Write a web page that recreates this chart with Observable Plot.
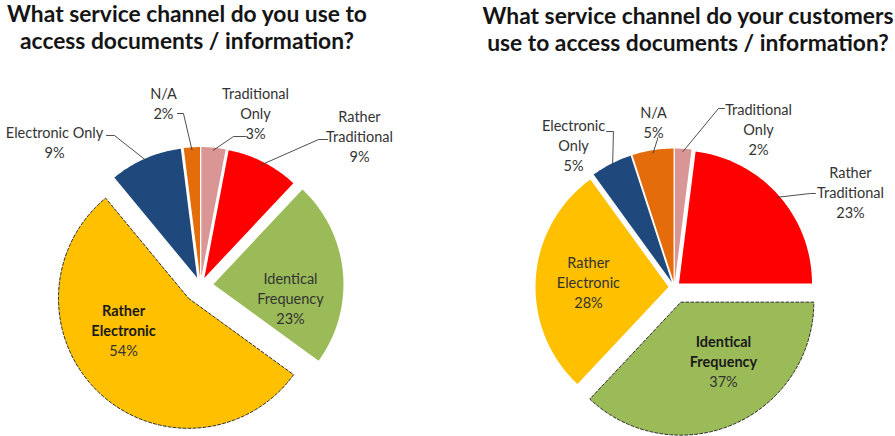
<!DOCTYPE html>
<html>
<head>
<meta charset="utf-8">
<script src="https://cdn.jsdelivr.net/npm/d3@7"></script>
<script src="https://cdn.jsdelivr.net/npm/@observablehq/plot@0.6"></script>
<style>
  body { margin: 0; background: #fff; }
  #wrap { position: relative; width: 895px; height: 436px; overflow: hidden; }
  .title { position: absolute; transform: translateX(-50%); white-space: pre; text-align: center;
           font-family: Lato, "Open Sans", sans-serif; font-weight: 700; font-size: 22.8px; line-height: 26.5px; color: #151515; }
  .pie { position: absolute; top: 62px; }
  .pie svg { overflow: visible; }
</style>
</head>
<body>
<div id="wrap"></div>
<script>
// ---------------- data ----------------
const categories = ["Traditional Only", "Rather Traditional", "Identical Frequency", "Rather Electronic", "Electronic Only", "N/A"];
const youValues = [3, 9, 23, 54, 9, 2];            // % – "you"
const customerValues = [2, 23, 37, 28, 5, 5];      // % – "your customers"
const youLabels = ["Traditional\nOnly", "Rather\nTraditional", "Identical\nFrequency", "Rather\nElectronic", "Electronic Only", "N/A"];
const customerLabels = ["Traditional\nOnly", "Rather\nTraditional", "Identical\nFrequency", "Rather\nElectronic", "Electronic\nOnly", "N/A"];
const titles = [
  "What service channel do you use to\naccess documents / information?",
  "What service channel do your customers\nuse to access documents / information?"
];

// ---------------- styles / layout ----------------
const sliceColors = ["#D99694", "#FF0000", "#9BBB59", "#FFC000", "#1F497D", "#E46C0A"];
const SVG_H = 374;
const LINE = 20;          // label line height, px
const layouts = [
  { left: 0, width: 447, cx: 200, cy: 223, r: 130, titleX: 187, titleTop: 0,
    explodeDefault: 0.065, explode: {"Identical Frequency": 0.1, "Rather Electronic": 0.135},
    emph: "Rather Electronic",
    labelPos: [[0.423, 1.331], [1.223, 1.154], [0.692, -0.092], [-0.592, -0.338], [-1.123, 1.108], [-0.285, 1.408]],
    leader: [[[0.346, 1.146], [0.254, 1.146]], [[0.977, 1.123], [0.908, 1.123]], null, null,
             [[-0.723, 1.154], [-0.662, 1.154]], [[-0.177, 1.323], [-0.131, 1.323]]] },
  { left: 447, width: 448, cx: 227, cy: 225, r: 133, titleX: 241, titleTop: 2,
    explodeDefault: 0.045, explode: {"Identical Frequency": 0.12},
    emph: "Identical Frequency",
    labelPos: [[0.632, 1.195], [1.323, 0.722], [0.368, -0.549], [-0.647, 0.045], [-0.759, 1.076], [-0.158, 1.248]],
    leader: [[[0.376, 1.346], [0.331, 1.346]], [[1.060, 0.707], [1.023, 0.707]], null, null,
             [[-0.511, 1.173], [-0.459, 1.173]], [[-0.128, 1.125], [-0.128, 1.115]]] }
];

function pieChart(values, labels, L) {
  const arcs = d3.pie().sort(null).value(d => d)(values);
  const slices = [], leaders = [], names = [], pcts = [];
  const k = L.r;
  arcs.forEach((a, i) => {
    const cat = categories[i];
    const mid = (a.startAngle + a.endAngle) / 2;
    const e = L.explode[cat] ?? L.explodeDefault;
    const ox = e * Math.sin(mid), oy = e * Math.cos(mid);
    slices.push({cat, x: ox, y: oy});
    const n = Math.max(2, Math.ceil((a.endAngle - a.startAngle) / (Math.PI / 180)));
    for (let j = 0; j <= n; j++) {
      const t = a.startAngle + (a.endAngle - a.startAngle) * j / n;
      slices.push({cat, x: ox + Math.sin(t), y: oy + Math.cos(t)});
    }
    const [u, v] = L.labelPos[i];
    const nameLines = labels[i].split("\n").length;
    names.push({cat, text: labels[i], x: u, y: v + (LINE / 2) / k, bold: cat === L.emph});
    pcts.push({cat, text: values[i] + "%", x: u, y: v - (nameLines * LINE / 2) / k});
    const ld = L.leader[i];
    if (ld) {
      leaders.push({cat, x: ld[0][0], y: ld[0][1]});
      leaders.push({cat, x: ld[1][0], y: ld[1][1]});
      const rr = 0.98;
      leaders.push({cat, x: ox + rr * Math.sin(mid), y: oy + rr * Math.cos(mid)});
    }
  });
  const textOpts = {x: "x", y: "y", text: "text", fontSize: 14.5, lineHeight: LINE / 14.5,
                    fill: "#333333", textAnchor: "middle", lineAnchor: "middle",
                    fontFamily: "Lato, 'Open Sans', sans-serif"};
  return Plot.plot({
    width: L.width, height: SVG_H, margin: 0,
    x: {domain: [-L.cx / k, (L.width - L.cx) / k], axis: null},
    y: {domain: [-(SVG_H - L.cy) / k, L.cy / k], axis: null},
    color: {domain: categories, range: sliceColors},
    style: {background: "transparent", overflow: "visible"},
    marks: [
      Plot.line(slices, {x: "x", y: "y", z: "cat", fill: "cat", stroke: "none", curve: "linear-closed"}),
      Plot.line(slices.filter(d => d.cat === L.emph), {x: "x", y: "y", z: "cat", fill: "none",
        stroke: "#2b2b2b", strokeWidth: 1, strokeDasharray: "3,2", curve: "linear-closed"}),
      Plot.line(leaders, {x: "x", y: "y", z: "cat", stroke: "#3a3a3a", strokeWidth: 0.9}),
      Plot.text(names.filter(d => !d.bold), textOpts),
      Plot.text(names.filter(d => d.bold), {...textOpts, fontWeight: 700, fill: "#1a1a1a"}),
      Plot.text(pcts, textOpts)
    ]
  });
}

const wrap = document.getElementById("wrap");
[[youValues, youLabels], [customerValues, customerLabels]].forEach(([vals, labs], p) => {
  const L = layouts[p];
  const t = document.createElement("div");
  t.className = "title";
  t.style.left = (L.left + L.titleX) + "px";
  t.style.top = L.titleTop + "px";
  t.textContent = titles[p];
  wrap.appendChild(t);
  const holder = document.createElement("div");
  holder.className = "pie";
  holder.style.left = L.left + "px";
  holder.appendChild(pieChart(vals, labs, L));
  wrap.appendChild(holder);
});
</script>
</body>
</html>
